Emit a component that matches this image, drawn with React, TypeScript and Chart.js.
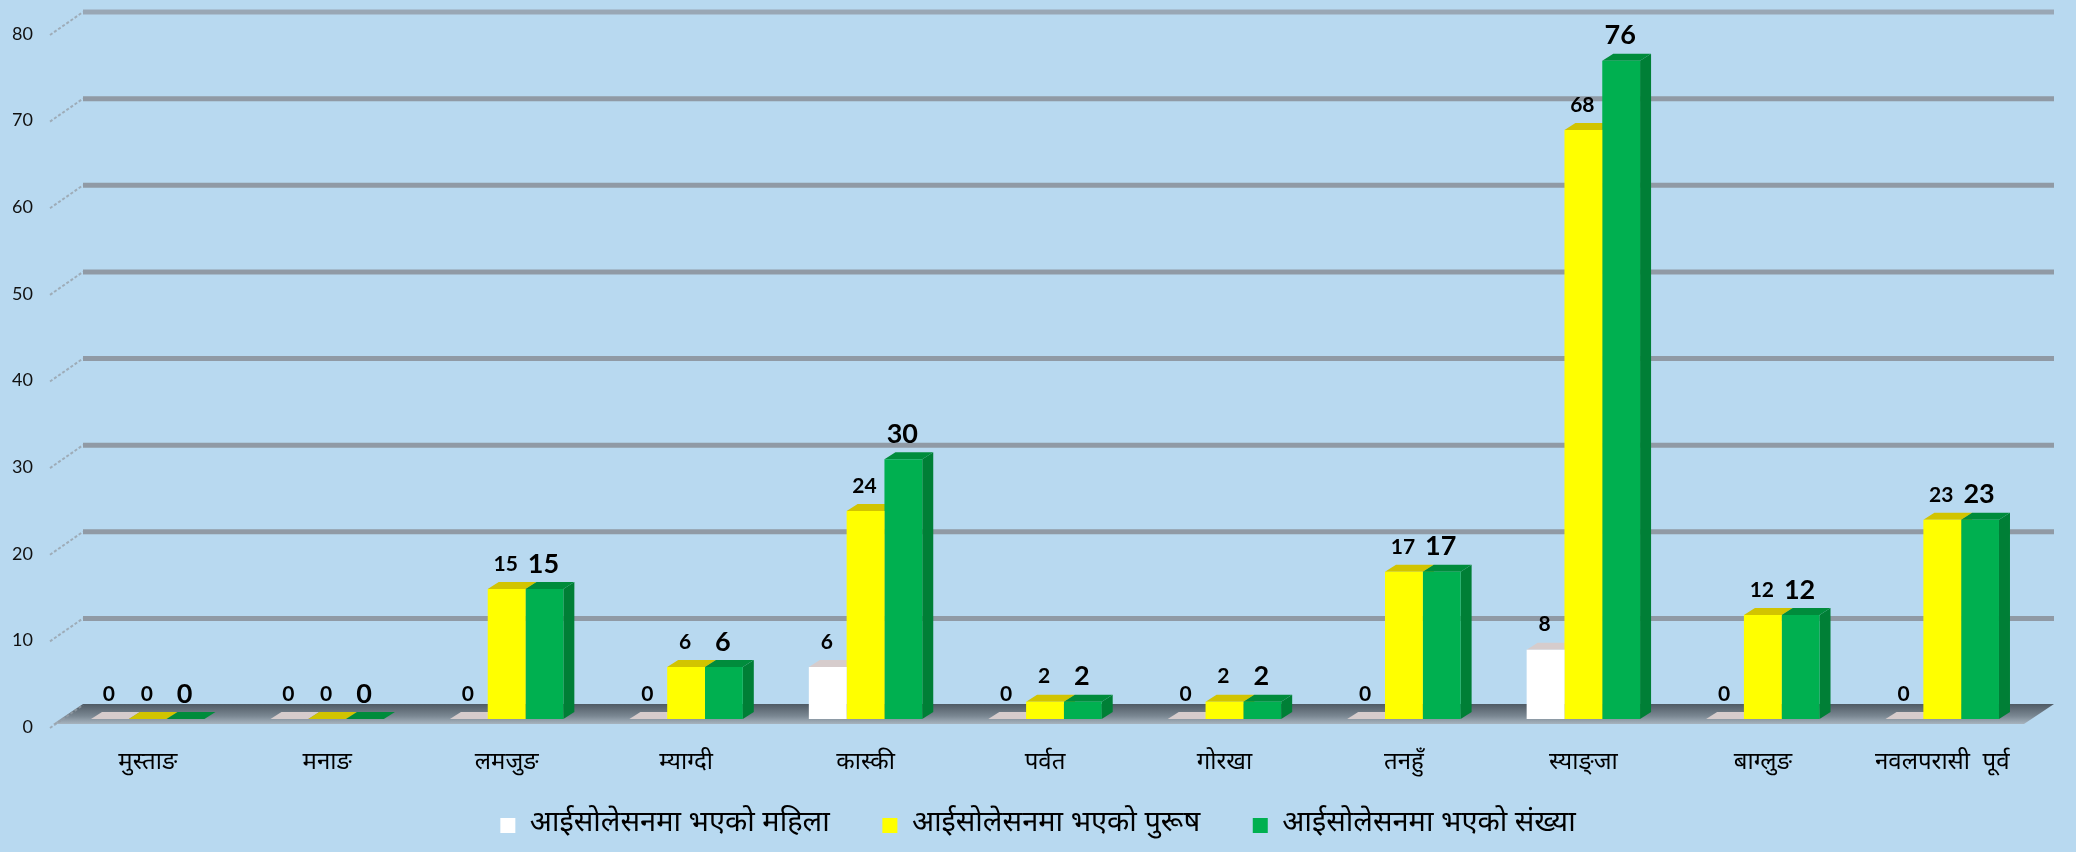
import React, { useEffect, useRef } from "react";
import { Chart, registerables } from "chart.js";

Chart.register(...registerables);

const categories = [
  "मुस्ताङ",
  "मनाङ",
  "लमजुङ",
  "म्याग्दी",
  "कास्की",
  "पर्वत",
  "गोरखा",
  "तनहुँ",
  "स्याङ्जा",
  "बाग्लुङ",
  "नवलपरासी  पूर्व",
];
const femaleValues = [0, 0, 0, 0, 6, 0, 0, 0, 8, 0, 0];
const maleValues = [0, 0, 15, 6, 24, 2, 2, 17, 68, 12, 23];
const totalValues = [0, 0, 15, 6, 30, 2, 2, 17, 76, 12, 23];
const seriesLabels = [
  "आईसोलेसनमा भएको महिला",
  "आईसोलेसनमा भएको पुरूष",
  "आईसोलेसनमा भएको संख्या",
];
const yTickValues = [0, 10, 20, 30, 40, 50, 60, 70, 80];

const FRONT_COLORS = ["#ffffff", "#ffff00", "#00b050"];
const SIDE_COLORS = ["#d0d0d0", "#c8bc00", "#007f36"];
const TOP_COLORS = ["#d6cccc", "#d2c400", "#008c3c"];
const DEVA = "'Noto Sans Devanagari', 'Noto Sans', Lato, sans-serif";
const DX = 11;
const DY = 7;

const threeD = {
  id: "threeD",
  beforeDatasetsDraw(chart: any) {
    const ctx = chart.ctx;
    const ys = chart.scales.y;
    const area = chart.chartArea;
    const y0 = ys.getPixelForValue(0);
    ctx.save();
    // floor
    const backY = y0 - 15;
    const frontY = y0 + 5;
    const bl = area.left + 25;
    const br = area.right + 22;
    const g = ctx.createLinearGradient(0, backY, 0, frontY);
    g.addColorStop(0, "#4f5a64");
    g.addColorStop(0.6, "#7a8792");
    g.addColorStop(1, "#a7b4bf");
    ctx.fillStyle = g;
    ctx.beginPath();
    ctx.moveTo(bl, backY);
    ctx.lineTo(br, backY);
    ctx.lineTo(br - 30, frontY);
    ctx.lineTo(bl - 30, frontY);
    ctx.closePath();
    ctx.fill();
    // gridlines
    yTickValues.forEach((v) => {
      const p = ys.getPixelForValue(v);
      const back = p - 14;
      const front = p + 9;
      ctx.strokeStyle = "rgba(150,158,166,0.75)";
      ctx.lineWidth = 2;
      ctx.setLineDash([3, 2]);
      ctx.beginPath();
      ctx.moveTo(area.left - 8, front);
      ctx.lineTo(area.left + 25, back);
      ctx.stroke();
      ctx.setLineDash([]);
      if (v > 0) {
        ctx.strokeStyle = v === 80 ? "rgba(150,162,174,0.9)" : "rgba(140,148,156,0.9)";
        ctx.lineWidth = 5;
        ctx.beginPath();
        ctx.moveTo(area.left + 25, back);
        ctx.lineTo(area.right + 22, back);
        ctx.stroke();
      }
    });
    // bar sides and tops
    chart.data.datasets.forEach((_ds: any, i: number) => {
      const meta = chart.getDatasetMeta(i);
      meta.data.forEach((bar: any) => {
        const { x, y, base, width } = bar.getProps(["x", "y", "base", "width"], true);
        const l = x - width / 2;
        const r = x + width / 2;
        ctx.fillStyle = SIDE_COLORS[i];
        ctx.beginPath();
        ctx.moveTo(r, y);
        ctx.lineTo(r + DX, y - DY);
        ctx.lineTo(r + DX, base - DY);
        ctx.lineTo(r, base);
        ctx.closePath();
        ctx.fill();
        ctx.fillStyle = TOP_COLORS[i];
        ctx.beginPath();
        ctx.moveTo(l, y);
        ctx.lineTo(l + DX, y - DY);
        ctx.lineTo(r + DX, y - DY);
        ctx.lineTo(r, y);
        ctx.closePath();
        ctx.fill();
      });
    });
    ctx.restore();
  },
  afterDatasetsDraw(chart: any) {
    const ctx = chart.ctx;
    ctx.save();
    ctx.fillStyle = "#000";
    ctx.textAlign = "center";
    ctx.textBaseline = "middle";
    chart.data.datasets.forEach((ds: any, i: number) => {
      const meta = chart.getDatasetMeta(i);
      ctx.font = i === 2 ? "bold 27px Lato" : "bold 21px Lato";
      meta.data.forEach((bar: any, j: number) => {
        const { x, y } = bar.getProps(["x", "y"], true);
        ctx.fillText(String(ds.data[j]), x - 1, y - 25);
      });
    });
    ctx.restore();
  },
};

export default function App() {
  const ref = useRef<HTMLCanvasElement>(null);
  useEffect(() => {
    document.body.style.margin = "0";
    document.body.style.background = "#b8d9f0";
    const canvas = ref.current!;
    const defaultLabels = (Chart.defaults as any).plugins.legend.labels.generateLabels;
    const chart = new Chart(canvas, {
      type: "bar",
      data: {
        labels: categories,
        datasets: [femaleValues, maleValues, totalValues].map((d, i) => ({
          label: seriesLabels[i],
          data: d,
          backgroundColor: FRONT_COLORS[i],
          borderWidth: 0,
          barPercentage: 1,
          categoryPercentage: 0.632,
        })),
      },
      options: {
        responsive: false,
        animation: false,
        devicePixelRatio: 1,
        layout: { padding: { top: 26, right: 0, left: 0, bottom: 2 } },
        plugins: {
          tooltip: { enabled: false },
          legend: {
            position: "bottom",
            labels: {
              boxWidth: 15,
              boxHeight: 15,
              padding: 30,
              color: "#000",
              font: { family: DEVA, size: 29 },
              generateLabels: (c: any) =>
                defaultLabels(c).map((it: any, i: number, arr: any[]) => ({
                  ...it,
                  text: i < arr.length - 1 ? it.text + "   " : it.text,
                })),
            },
          },
        },
        scales: {
          x: {
            grid: { display: false, drawTicks: false },
            border: { display: false },
            ticks: {
              color: "#000",
              padding: 31,
              font: { family: DEVA, size: 24 },
              maxRotation: 0,
              autoSkip: false,
            },
            afterFit: (s: any) => {
              s.height = 62;
            },
          },
          y: {
            min: 0,
            max: 80,
            grid: { display: false, drawTicks: false },
            border: { display: false },
            ticks: {
              stepSize: 10,
              color: "#111",
              padding: 25,
              labelOffset: 8,
              font: { family: "Lato", size: 18 },
            },
            afterFit: (s: any) => {
              s.width = 58;
              s.paddingTop = 0;
              s.paddingBottom = 0;
            },
          },
          yRight: {
            type: "linear",
            position: "right",
            display: true,
            grid: { display: false, drawTicks: false },
            border: { display: false },
            ticks: { display: false },
            afterFit: (s: any) => {
              s.width = 44;
              s.paddingTop = 0;
              s.paddingBottom = 0;
            },
          },
        },
      },
      plugins: [threeD],
    });
    return () => chart.destroy();
  }, []);
  return (
    <canvas
      ref={ref}
      width={2076}
      height={852}
      style={{ display: "block", width: 2076, height: 852, background: "#b8d9f0" }}
    />
  );
}
